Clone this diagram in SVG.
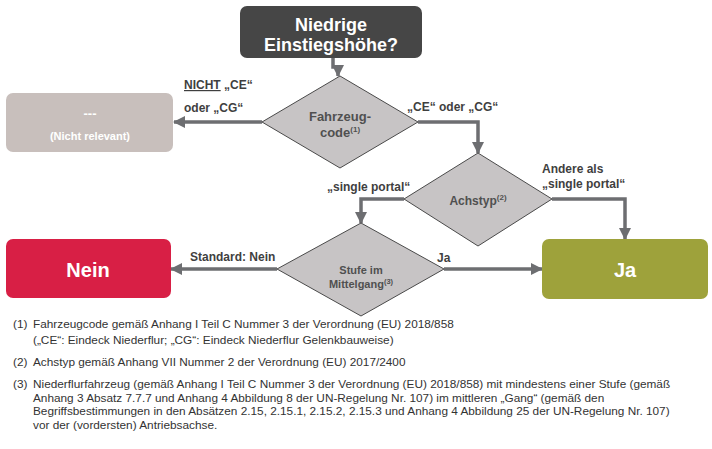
<svg xmlns="http://www.w3.org/2000/svg" width="712" height="449" viewBox="0 0 712 449">
<defs>
<style>
.lbl{font-family:"Liberation Sans",Arial,sans-serif;font-weight:bold;font-size:12px;fill:#3f3f3f}
.dtx{font-family:"Liberation Sans",Arial,sans-serif;font-weight:bold;fill:#505050;text-anchor:middle}
.btx{font-family:"Liberation Sans",Arial,sans-serif;font-weight:bold;fill:#ffffff;text-anchor:middle}
.fn{font-family:"Liberation Sans",Arial,sans-serif;font-size:11.8px;fill:#333333}
.dia{fill:#c7c4c5;stroke:#4a4a4a;stroke-width:1}
.con{fill:none;stroke:#6d6e71;stroke-width:3.5}
</style>
<marker id="ah" markerUnits="userSpaceOnUse" markerWidth="12" markerHeight="12" viewBox="0 0 12 12" refX="11" refY="6" orient="auto">
<path d="M0,0 L12,6 L0,12 Z" fill="#6d6e71"/>
</marker>
</defs>
<rect width="712" height="449" fill="#ffffff"/>

<g id="connectors">
<path class="con" d="M333,58 V67 H338 V76" marker-end="url(#ah)"/>
<path class="con" d="M262,122 H174" marker-end="url(#ah)"/>
<path class="con" d="M418,122 H478 V153" marker-end="url(#ah)"/>
<path class="con" d="M404,199 H361 V223" marker-end="url(#ah)"/>
<path class="con" d="M552,199 H625 V239" marker-end="url(#ah)"/>
<path class="con" d="M277,269 H171" marker-end="url(#ah)"/>
<path class="con" d="M444,269 H542" marker-end="url(#ah)"/>
</g>

<g id="labels">
<text class="lbl" x="184" y="89"><tspan text-decoration="underline">NICHT</tspan> „CE“</text>
<text class="lbl" x="184" y="112">oder „CG“</text>
<text class="lbl" x="407" y="111">„CE“ oder „CG“</text>
<text class="lbl" x="542" y="173">Andere als</text>
<text class="lbl" x="542" y="188">„single portal“</text>
<text class="lbl" x="327" y="191">„single portal“</text>
<text class="lbl" x="190" y="261">Standard: Nein</text>
<text class="lbl" x="437" y="262">Ja</text>
</g>

<g id="start">
<rect x="240" y="6" width="182" height="52" rx="7" fill="#464646"/>
<text class="btx" x="331" y="31" font-size="18">Niedrige</text>
<text class="btx" x="331" y="51" font-size="18">Einstiegshöhe?</text>
</g>

<g id="fahrzeugcode">
<polygon class="dia" points="340,76 418,122 340,168 262,122"/>
<text class="dtx" x="340" y="121" font-size="13">Fahrzeug-</text>
<text class="dtx" x="340" y="137" font-size="13">code<tspan font-size="8" dy="-5">(1)</tspan></text>
</g>

<g id="nicht-relevant">
<rect x="6" y="93" width="167" height="59" rx="7" fill="#c8bfbc"/>
<text class="btx" x="90" y="118" font-size="13">---</text>
<text class="btx" x="90" y="140" font-size="11">(Nicht relevant)</text>
</g>

<g id="achstyp">
<polygon class="dia" points="478,153 552,199 478,246 404,199"/>
<text class="dtx" x="478" y="205" font-size="12">Achstyp<tspan font-size="8" dy="-5">(2)</tspan></text>
</g>

<g id="stufe">
<polygon class="dia" points="361,223 444,269 361,316 277,269"/>
<text class="dtx" x="361" y="274" font-size="11">Stufe im</text>
<text class="dtx" x="361" y="288" font-size="11">Mittelgang<tspan font-size="7.5" dy="-4">(3)</tspan></text>
</g>

<g id="nein">
<rect x="6" y="239" width="165" height="59" rx="7" fill="#d81f45"/>
<text class="btx" x="88" y="277" font-size="20">Nein</text>
</g>

<g id="ja">
<rect x="542" y="239" width="166" height="60" rx="7" fill="#9ea23b"/>
<text class="btx" x="625" y="277" font-size="20">Ja</text>
</g>

<g id="footnotes">
<text class="fn" x="13" y="328">(1)</text>
<text class="fn" x="33" y="328">Fahrzeugcode gemäß Anhang I Teil C Nummer 3 der Verordnung (EU) 2018/858</text>
<text class="fn" x="33" y="344">(„CE“: Eindeck Niederflur; „CG“: Eindeck Niederflur Gelenkbauweise)</text>
<text class="fn" x="13" y="366">(2)</text>
<text class="fn" x="33" y="366">Achstyp gemäß Anhang VII Nummer 2 der Verordnung (EU) 2017/2400</text>
<text class="fn" x="13" y="388">(3)</text>
<text class="fn" x="33" y="388">Niederflurfahrzeug (gemäß Anhang I Teil C Nummer 3 der Verordnung (EU) 2018/858) mit mindestens einer Stufe (gemäß</text>
<text class="fn" x="33" y="402">Anhang 3 Absatz 7.7.7 und Anhang 4 Abbildung 8 der UN-Regelung Nr. 107) im mittleren „Gang“ (gemäß den</text>
<text class="fn" x="33" y="415">Begriffsbestimmungen in den Absätzen 2.15, 2.15.1, 2.15.2, 2.15.3 und Anhang 4 Abbildung 25 der UN-Regelung Nr. 107)</text>
<text class="fn" x="33" y="429">vor der (vordersten) Antriebsachse.</text>
</g>
</svg>
